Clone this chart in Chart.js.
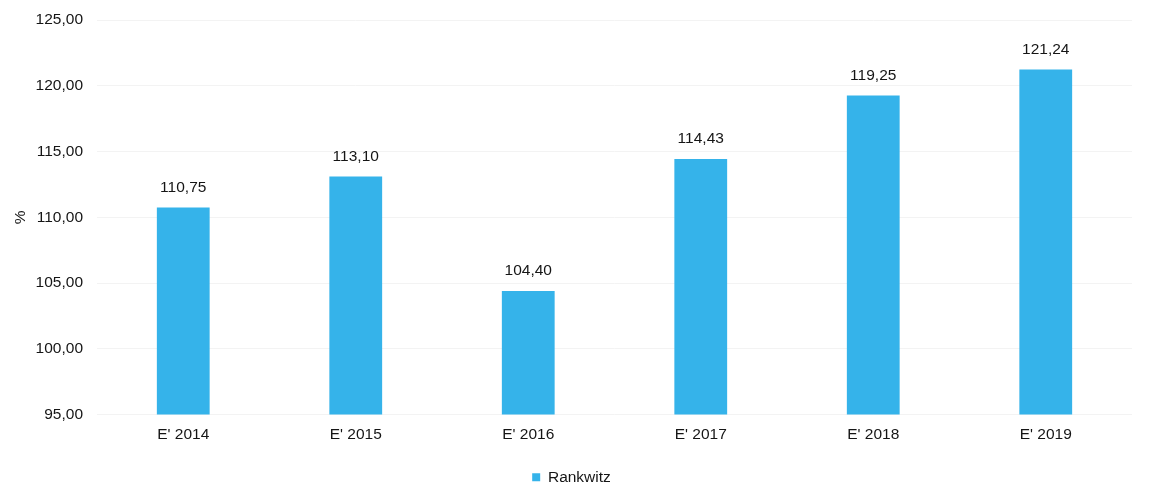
<!DOCTYPE html>
<html>
<head>
<meta charset="utf-8">
<script src="https://cdn.jsdelivr.net/npm/chart.js@4/dist/chart.umd.min.js"></script>
<style>
html,body{margin:0;padding:0;background:#fff;}
#wrap{width:1149px;height:483px;position:relative;}
</style>
</head>
<body>
<div id="wrap"><canvas id="c" width="1149" height="483"></canvas></div>
<script>
const categories = ["E' 2014", "E' 2015", "E' 2016", "E' 2017", "E' 2018", "E' 2019"];
const seriesName = "Rankwitz";
const values = [110.75, 113.10, 104.40, 114.43, 119.25, 121.24];
const yTicks = [95, 100, 105, 110, 115, 120, 125];

const fmt = v => v.toFixed(2).replace('.', ',');
const FONT = "'Liberation Sans', Arial, sans-serif";
const FS = 15.5;

const valueLabels = {
  id: 'valueLabels',
  afterDatasetsDraw(chart) {
    const ctx = chart.ctx;
    const meta = chart.getDatasetMeta(0);
    ctx.save();
    ctx.font = FS + "px " + FONT;
    ctx.fillStyle = '#151515';
    ctx.textAlign = 'center';
    ctx.textBaseline = 'middle';
    meta.data.forEach((bar, i) => {
      ctx.fillText(fmt(values[i]), bar.x, bar.y - 20);
    });
    ctx.restore();
  }
};

new Chart(document.getElementById('c'), {
  type: 'bar',
  data: {
    labels: categories,
    datasets: [{
      label: seriesName,
      data: values,
      backgroundColor: '#35b3ea',
      borderWidth: 0,
      barPercentage: 0.9,
      categoryPercentage: 0.34
    }]
  },
  options: {
    responsive: false,
    animation: false,
    layout: { padding: { top: 20, right: 17, left: 11, bottom: -12 } },
    plugins: {
      legend: {
        position: 'bottom',
        labels: {
          boxWidth: 8, boxHeight: 8, padding: 0,
          color: '#151515',
          font: { family: FONT, size: FS }
        }
      },
      tooltip: { enabled: false }
    },
    scales: {
      x: {
        grid: { display: false, drawTicks: false },
        border: { display: false },
        ticks: { color: '#151515', padding: 11, font: { family: FONT, size: FS } },
        afterFit: s => { s.height = 55; }
      },
      y: {
        min: 95, max: 125,
        afterBuildTicks: s => { s.ticks = yTicks.map(v => ({ value: v })); },
        grid: { color: '#f3f3f3', drawTicks: false },
        border: { display: false },
        ticks: {
          color: '#151515', padding: 14,
          font: { family: FONT, size: FS },
          callback: v => fmt(v)
        },
        title: { display: true, text: '%', color: '#151515', font: { family: FONT, size: FS }, padding: { top: 0, bottom: 0 } },
        afterFit: s => { s.width = 86; s.paddingTop = 0; s.paddingBottom = 0; }
      }
    }
  },
  plugins: [valueLabels]
});
</script>
</body>
</html>
